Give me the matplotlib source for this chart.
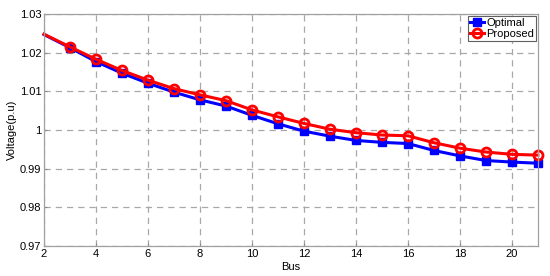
import matplotlib
matplotlib.use("Agg")
import matplotlib.pyplot as plt

plt.rcParams['font.family'] = ['Liberation Sans', 'DejaVu Sans']

bus = [2, 3, 4, 5, 6, 7, 8, 9, 10, 11, 12, 13, 14, 15, 16, 17, 18, 19, 20, 21]
optimal = [1.0247, 1.0213, 1.0177, 1.0147, 1.0121, 1.0098, 1.0078, 1.0062, 1.0038,
           1.0016, 0.9997, 0.9984, 0.9973, 0.9968, 0.9965, 0.9947, 0.9933, 0.9921,
           0.9917, 0.9914]
proposed = [1.0248, 1.0215, 1.0183, 1.0154, 1.0129, 1.0107, 1.0091, 1.0076, 1.0052,
            1.0034, 1.0017, 1.0002, 0.9993, 0.9987, 0.9985, 0.9967, 0.9953, 0.9943,
            0.9937, 0.9935]
xticks = [2, 4, 6, 8, 10, 12, 14, 16, 18, 20]
yticks = [0.97, 0.98, 0.99, 1.00, 1.01, 1.02, 1.03]
yticklabels = ['0.97', '0.98', '0.99', '1', '1.01', '1.02', '1.03']


def plot_voltage():
    fig = plt.figure(figsize=(5.5, 2.76), dpi=100)
    ax = fig.add_axes([0.08, 0.109, 0.898, 0.84])
    skip_first = list(range(1, len(bus)))
    ax.plot(bus, optimal, color='blue', linewidth=2.2, marker='s',
            markersize=6, markevery=skip_first, label='Optimal', clip_on=False)
    ax.plot(bus, proposed, color='red', linewidth=2.2, marker='o',
            markersize=6.5, markerfacecolor='none', markeredgewidth=2,
            markevery=skip_first, label='Proposed', clip_on=False)
    ax.set_xlim(2, 21)
    ax.set_ylim(0.97, 1.03)
    ax.set_xticks(xticks)
    ax.set_yticks(yticks)
    ax.set_yticklabels(yticklabels)
    ax.tick_params(labelsize=8, length=2, direction='in', color='#888888', pad=2)
    ax.grid(True, linestyle=(0, (5, 4)), color='#a8a8a8', linewidth=0.9)
    for s in ax.spines.values():
        s.set_color('#a0a0a0')
        s.set_linewidth(0.9)
    ax.set_xlabel('Bus', fontsize=8)
    ax.xaxis.set_label_coords(0.5, -0.07)
    ax.set_ylabel('Voltage(p.u)', fontsize=8, labelpad=2)
    leg = ax.legend(loc='upper right', fontsize=8, handlelength=1.3,
                    handletextpad=0.15, borderpad=0.2, labelspacing=0.1,
                    fancybox=False, framealpha=1, borderaxespad=0.15)
    leg.get_frame().set_edgecolor('#606060')
    leg.get_frame().set_linewidth(0.8)
    fig.savefig('out.png', dpi=100)


plot_voltage()
